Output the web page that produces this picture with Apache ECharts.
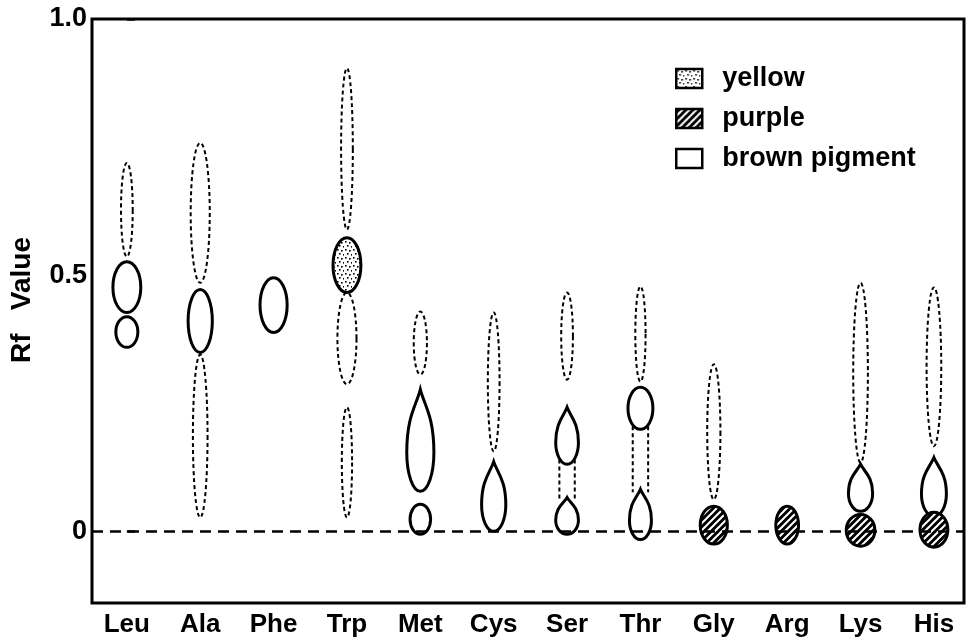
<!DOCTYPE html>
<html>
<head>
<meta charset="utf-8">
<script src="https://cdn.jsdelivr.net/npm/echarts@6/dist/echarts.min.js"></script>
<style>html,body{margin:0;padding:0;background:#fff}#c{width:968px;height:641px}</style>
</head>
<body>
<div id="c"></div>
<script>
// ---- data ----
const categories = ['Leu','Ala','Phe','Trp','Met','Cys','Ser','Thr','Gly','Arg','Lys','His'];
const yTicks = [0, 0.5, 1.0];
const legendNames = ['yellow', 'purple', 'brown pigment'];
const originRf = 0;

// faint spots (dashed outline): [amino acid index, Rf bottom, Rf top, spot width (category units)]
const dashedSpots = [
  [0, 0.536, 0.719, 0.16],
  [1, 0.485, 0.758, 0.26],
  [1, 0.027, 0.345, 0.20],
  [3, 0.589, 0.904, 0.16],
  [3, 0.287, 0.466, 0.26],
  [3, 0.027, 0.242, 0.14],
  [4, 0.306, 0.429, 0.18],
  [5, 0.156, 0.427, 0.16],
  [6, 0.296, 0.466, 0.16],
  [7, 0.292, 0.478, 0.14],
  [8, 0.062, 0.326, 0.18],
  [10, 0.134, 0.485, 0.20],
  [11, 0.166, 0.476, 0.20]
];
// faint streaks joining two spots: [index, Rf bottom, Rf top, width]
const streakSpots = [
  [6, 0.058, 0.140, 0.21],
  [7, 0.076, 0.205, 0.21]
];
// brown pigment spots: [index, Rf bottom, Rf top, width, form (0 oval, 1 drop)]
const brownSpots = [
  [0, 0.427, 0.526, 0.38, 0],
  [0, 0.359, 0.419, 0.30, 0],
  [1, 0.349, 0.472, 0.33, 0],
  [2, 0.388, 0.495, 0.37, 0],
  [4, 0.078, 0.277, 0.37, 1],
  [4, -0.006, 0.053, 0.28, 0],
  [5, 0.000, 0.136, 0.33, 1],
  [6, 0.131, 0.242, 0.31, 1],
  [6, -0.006, 0.066, 0.31, 1],
  [7, 0.199, 0.281, 0.34, 0],
  [7, -0.016, 0.082, 0.30, 1],
  [10, 0.039, 0.131, 0.33, 1],
  [11, 0.029, 0.144, 0.34, 1]
];
// yellow spots
const yellowSpots = [
  [3, 0.466, 0.573, 0.38, 0]
];
// purple spots
const purpleSpots = [
  [8, -0.025, 0.049, 0.37, 0],
  [9, -0.025, 0.049, 0.31, 0],
  [10, -0.029, 0.033, 0.39, 0],
  [11, -0.031, 0.037, 0.38, 0]
];

// ---- fill patterns ----
function dotPattern() {
  const c = document.createElement('canvas');
  c.width = 8; c.height = 8;
  const g = c.getContext('2d');
  g.fillStyle = '#fff'; g.fillRect(0, 0, 8, 8);
  g.fillStyle = '#000';
  [[1, 1], [5, 2], [3, 5], [7, 6]].forEach(function (p) { g.fillRect(p[0], p[1], 1.6, 1.6); });
  return { image: c, repeat: 'repeat' };
}
function hatchPattern() {
  const c = document.createElement('canvas');
  c.width = 7; c.height = 7;
  const g = c.getContext('2d');
  g.fillStyle = '#000'; g.fillRect(0, 0, 7, 7);
  g.strokeStyle = '#fff'; g.lineWidth = 2;
  g.beginPath();
  g.moveTo(-1, 8); g.lineTo(8, -1);
  g.moveTo(-1, 1); g.lineTo(1, -1);
  g.moveTo(6, 8); g.lineTo(8, 6);
  g.stroke();
  return { image: c, repeat: 'repeat' };
}
const DOTS = dotPattern();
const HATCH = hatchPattern();

// ---- spot outlines ----
function ovalPath(cx, T, B, a) {
  const cy = (T + B) / 2, b = (B - T) / 2, k = 0.5523;
  return 'M' + (cx + a) + ',' + cy +
    'C' + (cx + a) + ',' + (cy + k * b) + ' ' + (cx + k * a) + ',' + B + ' ' + cx + ',' + B +
    'C' + (cx - k * a) + ',' + B + ' ' + (cx - a) + ',' + (cy + k * b) + ' ' + (cx - a) + ',' + cy +
    'C' + (cx - a) + ',' + (cy - k * b) + ' ' + (cx - k * a) + ',' + T + ' ' + cx + ',' + T +
    'C' + (cx + k * a) + ',' + T + ' ' + (cx + a) + ',' + (cy - k * b) + ' ' + (cx + a) + ',' + cy + 'Z';
}
function dropPath(cx, T, B, a) {
  const h = B - T, yw = T + 0.62 * h, r = B - yw, k = 0.5523;
  return 'M' + cx + ',' + T +
    'C' + (cx + 0.3 * a) + ',' + (T + 0.16 * h) + ' ' + (cx + a) + ',' + (yw - 0.36 * h) + ' ' + (cx + a) + ',' + yw +
    'C' + (cx + a) + ',' + (yw + k * r) + ' ' + (cx + k * a) + ',' + B + ' ' + cx + ',' + B +
    'C' + (cx - k * a) + ',' + B + ' ' + (cx - a) + ',' + (yw + k * r) + ' ' + (cx - a) + ',' + yw +
    'C' + (cx - a) + ',' + (yw - 0.36 * h) + ' ' + (cx - 0.3 * a) + ',' + (T + 0.16 * h) + ' ' + cx + ',' + T + 'Z';
}
function streakPath(cx, T, B, a) {
  return 'M' + (cx - a) + ',' + T + 'L' + (cx - a) + ',' + B + 'M' + (cx + a) + ',' + T + 'L' + (cx + a) + ',' + B;
}

function makeRender(src, kind, style) {
  return function (params, api) {
    const d = src[params.dataIndex];
    const top = api.coord([d[0], d[2]]);
    const bot = api.coord([d[0], d[1]]);
    const a = api.size([d[3], 0])[0] / 2;
    let path;
    if (kind === 'streak') path = streakPath(top[0], top[1], bot[1], a);
    else if (d[4] === 1) path = dropPath(top[0], top[1], bot[1], a);
    else path = ovalPath(top[0], top[1], bot[1], a);
    return { type: 'path', shape: { pathData: path }, style: style };
  };
}

const FONT = "'Liberation Sans', Arial, sans-serif";
const chart = echarts.init(document.getElementById('c'), null, { renderer: 'canvas' });

const dashedStyle = { fill: 'none', stroke: '#000', lineWidth: 2, lineDash: [4, 3] };
const solidStroke = { stroke: '#000', lineWidth: 3 };

chart.setOption({
  animation: false,
  backgroundColor: '#fff',
  grid: { left: 89, right: 4, top: 19, bottom: 38, show: true, borderColor: '#000', borderWidth: 3, backgroundColor: 'transparent' },
  legend: {
    orient: 'vertical', left: 670, top: 60,
    itemWidth: 26, itemHeight: 19, itemGap: 13,
    selectedMode: false,
    formatter: function (n) { return '{g|}' + n; },
    textStyle: {
      fontFamily: FONT, fontWeight: 'bold', fontSize: 27, color: '#000',
      rich: { g: { width: 15 } }
    },
    data: [
      { name: legendNames[0], icon: 'rect', itemStyle: { color: DOTS, borderColor: '#000', borderWidth: 2.5 } },
      { name: legendNames[1], icon: 'rect', itemStyle: { color: HATCH, borderColor: '#000', borderWidth: 2.5 } },
      { name: legendNames[2], icon: 'rect', itemStyle: { color: '#fff', borderColor: '#000', borderWidth: 2.5 } }
    ]
  },
  xAxis: {
    type: 'value', min: -0.475, max: 11.41,
    axisLine: { show: false }, axisTick: { show: false }, splitLine: { show: false },
    axisLabel: {
      customValues: categories.map(function (c, i) { return i; }),
      formatter: function (v) { return categories[Math.round(v)]; },
      fontFamily: FONT, fontWeight: 'bold', fontSize: 26, color: '#000', margin: 9
    }
  },
  yAxis: {
    type: 'value', min: -0.14, max: 1.0,
    name: 'Rf   Value', nameLocation: 'middle', nameRotate: 90, nameGap: 56,
    nameTextStyle: { fontFamily: FONT, fontWeight: 'bold', fontSize: 28, color: '#000', padding: [0, 0, 0, 22] },
    axisLine: { show: false }, splitLine: { show: false },
    axisTick: { show: true, inside: true, length: 8, customValues: yTicks, lineStyle: { color: '#000', width: 2.5 } },
    axisLabel: {
      customValues: yTicks,
      formatter: function (v) { return v === 0 ? '0' : v.toFixed(1); },
      fontFamily: FONT, fontWeight: 'bold', fontSize: 27, color: '#000', margin: 5
    }
  },
  series: [
    {
      name: 'origin', type: 'line', data: [], silent: true, symbol: 'none',
      markLine: {
        silent: true, symbol: ['none', 'none'], label: { show: false }, animation: false,
        lineStyle: { color: '#000', width: 2.5, type: [11, 7] },
        data: [{ yAxis: originRf }]
      }
    },
    {
      name: 'faint', type: 'custom', renderItem: makeRender(dashedSpots, 'spot', dashedStyle),
      data: dashedSpots, encode: { x: 0, y: [1, 2] }, silent: true
    },
    {
      name: 'streak', type: 'custom', renderItem: makeRender(streakSpots, 'streak', dashedStyle),
      data: streakSpots, encode: { x: 0, y: [1, 2] }, silent: true
    },
    {
      name: legendNames[2], type: 'custom',
      itemStyle: { color: '#fff', borderColor: '#000' },
      renderItem: makeRender(brownSpots, 'spot', Object.assign({ fill: '#fff' }, solidStroke)),
      data: brownSpots, encode: { x: 0, y: [1, 2] }, silent: true
    },
    {
      name: legendNames[0], type: 'custom',
      itemStyle: { color: DOTS, borderColor: '#000' },
      renderItem: makeRender(yellowSpots, 'spot', Object.assign({ fill: DOTS }, solidStroke)),
      data: yellowSpots, encode: { x: 0, y: [1, 2] }, silent: true
    },
    {
      name: legendNames[1], type: 'custom',
      itemStyle: { color: HATCH, borderColor: '#000' },
      renderItem: makeRender(purpleSpots, 'spot', Object.assign({ fill: HATCH }, solidStroke)),
      data: purpleSpots, encode: { x: 0, y: [1, 2] }, silent: true
    }
  ]
});
</script>
</body>
</html>
